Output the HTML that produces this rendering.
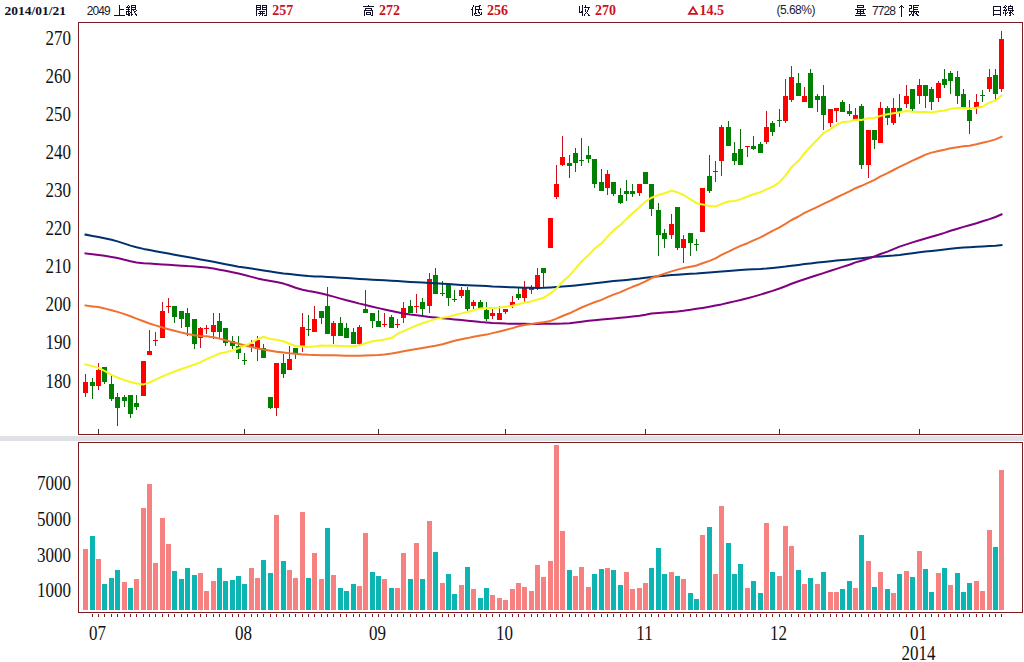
<!DOCTYPE html>
<html><head><meta charset="utf-8">
<style>
html,body{margin:0;padding:0;background:#fff;}
body{width:1024px;height:662px;overflow:hidden;position:relative;}
svg{position:absolute;left:0;top:0;}
.yl{font-family:"Liberation Serif",serif;font-size:17px;fill:#111;text-anchor:end;}
.xl{font-family:"Liberation Serif",serif;font-size:17px;fill:#111;text-anchor:middle;}
.h{position:absolute;top:3px;font-family:"Liberation Sans",sans-serif;font-size:12px;color:#1a1a2e;white-space:nowrap;line-height:14px;}
.hb{font-family:"Liberation Serif",serif;font-weight:bold;color:#cc1122;font-size:14px;}
.hd{font-family:"Liberation Serif",serif;font-weight:bold;color:#10102a;font-size:13.5px;}
.hn{font-size:12px;letter-spacing:-0.9px;}
.hp{font-size:12px;letter-spacing:-0.5px;}
.hc{font-size:12px;color:#10102a;}
</style></head><body>
<svg width="1024" height="662" viewBox="0 0 1024 662">
<rect x="0" y="436" width="1024" height="5" fill="#e0e1e4"/>
<rect x="78.5" y="22.5" width="944" height="412" fill="#fff" stroke="#7a1c22" stroke-width="1"/>
<rect x="78.5" y="442.5" width="944" height="170" fill="#fff" stroke="#7a1c22" stroke-width="1"/>
<rect x="85" y="374" width="1" height="23" fill="#c8101e"/>
<rect x="83" y="382" width="5" height="11" fill="#ff0000"/>
<rect x="92" y="378" width="1" height="21" fill="#0a6e0a"/>
<rect x="90" y="382" width="5" height="4" fill="#008000"/>
<rect x="98" y="363" width="1" height="27" fill="#c8101e"/>
<rect x="96" y="370" width="5" height="16" fill="#ff0000"/>
<rect x="104" y="367" width="1" height="17" fill="#0a6e0a"/>
<rect x="102" y="367" width="5" height="15" fill="#008000"/>
<rect x="111" y="374" width="1" height="27" fill="#0a6e0a"/>
<rect x="109" y="384" width="5" height="15" fill="#008000"/>
<rect x="117" y="393" width="1" height="33" fill="#0a6e0a"/>
<rect x="115" y="397" width="5" height="11" fill="#008000"/>
<rect x="124" y="395" width="1" height="12" fill="#0a6e0a"/>
<rect x="122" y="397" width="5" height="4" fill="#008000"/>
<rect x="130" y="395" width="1" height="23" fill="#0a6e0a"/>
<rect x="128" y="395" width="5" height="19" fill="#008000"/>
<rect x="136" y="395" width="1" height="15" fill="#0a6e0a"/>
<rect x="134" y="403" width="5" height="4" fill="#008000"/>
<rect x="143" y="361" width="1" height="35" fill="#c8101e"/>
<rect x="141" y="361" width="5" height="35" fill="#ff0000"/>
<rect x="149" y="330" width="1" height="25" fill="#c8101e"/>
<rect x="147" y="351" width="5" height="4" fill="#ff0000"/>
<rect x="155" y="332" width="1" height="14" fill="#c8101e"/>
<rect x="153" y="340" width="5" height="1" fill="#ff0000"/>
<rect x="162" y="302" width="1" height="36" fill="#c8101e"/>
<rect x="160" y="311" width="5" height="27" fill="#ff0000"/>
<rect x="168" y="298" width="1" height="15" fill="#c8101e"/>
<rect x="166" y="306" width="5" height="1" fill="#ff0000"/>
<rect x="174" y="306" width="1" height="17" fill="#0a6e0a"/>
<rect x="172" y="306" width="5" height="11" fill="#008000"/>
<rect x="181" y="311" width="1" height="17" fill="#0a6e0a"/>
<rect x="179" y="311" width="5" height="8" fill="#008000"/>
<rect x="187" y="308" width="1" height="28" fill="#0a6e0a"/>
<rect x="185" y="313" width="5" height="14" fill="#008000"/>
<rect x="194" y="319" width="1" height="30" fill="#0a6e0a"/>
<rect x="192" y="319" width="5" height="25" fill="#008000"/>
<rect x="200" y="327" width="1" height="21" fill="#c8101e"/>
<rect x="198" y="328" width="5" height="10" fill="#ff0000"/>
<rect x="206" y="325" width="1" height="9" fill="#c8101e"/>
<rect x="204" y="328" width="5" height="1" fill="#ff0000"/>
<rect x="213" y="313" width="1" height="26" fill="#c8101e"/>
<rect x="211" y="325" width="5" height="7" fill="#ff0000"/>
<rect x="219" y="313" width="1" height="25" fill="#0a6e0a"/>
<rect x="217" y="321" width="5" height="11" fill="#008000"/>
<rect x="225" y="328" width="1" height="18" fill="#0a6e0a"/>
<rect x="223" y="328" width="5" height="15" fill="#008000"/>
<rect x="232" y="336" width="1" height="13" fill="#0a6e0a"/>
<rect x="230" y="341" width="5" height="5" fill="#008000"/>
<rect x="238" y="336" width="1" height="23" fill="#0a6e0a"/>
<rect x="236" y="346" width="5" height="7" fill="#008000"/>
<rect x="244" y="353" width="1" height="12" fill="#0a6e0a"/>
<rect x="242" y="360" width="5" height="1" fill="#008000"/>
<rect x="251" y="340" width="1" height="12" fill="#c8101e"/>
<rect x="249" y="344" width="5" height="3" fill="#ff0000"/>
<rect x="257" y="336" width="1" height="25" fill="#c8101e"/>
<rect x="255" y="340" width="5" height="9" fill="#ff0000"/>
<rect x="263" y="344" width="1" height="14" fill="#0a6e0a"/>
<rect x="261" y="348" width="5" height="10" fill="#008000"/>
<rect x="270" y="397" width="1" height="12" fill="#0a6e0a"/>
<rect x="268" y="397" width="5" height="11" fill="#008000"/>
<rect x="276" y="363" width="1" height="53" fill="#c8101e"/>
<rect x="274" y="363" width="5" height="45" fill="#ff0000"/>
<rect x="283" y="354" width="1" height="24" fill="#0a6e0a"/>
<rect x="281" y="363" width="5" height="11" fill="#008000"/>
<rect x="289" y="346" width="1" height="24" fill="#c8101e"/>
<rect x="287" y="359" width="5" height="11" fill="#ff0000"/>
<rect x="295" y="348" width="1" height="11" fill="#0a6e0a"/>
<rect x="293" y="348" width="5" height="5" fill="#008000"/>
<rect x="302" y="313" width="1" height="39" fill="#c8101e"/>
<rect x="300" y="327" width="5" height="19" fill="#ff0000"/>
<rect x="308" y="315" width="1" height="21" fill="#0a6e0a"/>
<rect x="306" y="329" width="5" height="1" fill="#008000"/>
<rect x="314" y="306" width="1" height="26" fill="#c8101e"/>
<rect x="312" y="319" width="5" height="13" fill="#ff0000"/>
<rect x="321" y="311" width="1" height="13" fill="#0a6e0a"/>
<rect x="319" y="311" width="5" height="7" fill="#008000"/>
<rect x="327" y="287" width="1" height="47" fill="#0a6e0a"/>
<rect x="325" y="306" width="5" height="28" fill="#008000"/>
<rect x="333" y="321" width="1" height="23" fill="#c8101e"/>
<rect x="331" y="323" width="5" height="13" fill="#ff0000"/>
<rect x="340" y="317" width="1" height="19" fill="#0a6e0a"/>
<rect x="338" y="323" width="5" height="13" fill="#008000"/>
<rect x="346" y="323" width="1" height="15" fill="#0a6e0a"/>
<rect x="344" y="328" width="5" height="10" fill="#008000"/>
<rect x="353" y="328" width="1" height="16" fill="#0a6e0a"/>
<rect x="351" y="332" width="5" height="12" fill="#008000"/>
<rect x="359" y="325" width="1" height="20" fill="#c8101e"/>
<rect x="357" y="327" width="5" height="17" fill="#ff0000"/>
<rect x="365" y="290" width="1" height="23" fill="#0a6e0a"/>
<rect x="363" y="309" width="5" height="4" fill="#008000"/>
<rect x="372" y="313" width="1" height="15" fill="#0a6e0a"/>
<rect x="370" y="313" width="5" height="8" fill="#008000"/>
<rect x="378" y="310" width="1" height="17" fill="#0a6e0a"/>
<rect x="376" y="321" width="5" height="6" fill="#008000"/>
<rect x="384" y="313" width="1" height="14" fill="#c8101e"/>
<rect x="382" y="324" width="5" height="1" fill="#ff0000"/>
<rect x="391" y="315" width="1" height="13" fill="#0a6e0a"/>
<rect x="389" y="317" width="5" height="11" fill="#008000"/>
<rect x="397" y="319" width="1" height="9" fill="#c8101e"/>
<rect x="395" y="324" width="5" height="1" fill="#ff0000"/>
<rect x="403" y="302" width="1" height="21" fill="#c8101e"/>
<rect x="401" y="308" width="5" height="10" fill="#ff0000"/>
<rect x="410" y="300" width="1" height="13" fill="#0a6e0a"/>
<rect x="408" y="306" width="5" height="7" fill="#008000"/>
<rect x="416" y="294" width="1" height="19" fill="#c8101e"/>
<rect x="414" y="306" width="5" height="1" fill="#ff0000"/>
<rect x="422" y="298" width="1" height="18" fill="#0a6e0a"/>
<rect x="420" y="302" width="5" height="7" fill="#008000"/>
<rect x="429" y="273" width="1" height="40" fill="#c8101e"/>
<rect x="427" y="279" width="5" height="27" fill="#ff0000"/>
<rect x="435" y="268" width="1" height="26" fill="#0a6e0a"/>
<rect x="433" y="275" width="5" height="19" fill="#008000"/>
<rect x="442" y="281" width="1" height="15" fill="#0a6e0a"/>
<rect x="440" y="293" width="5" height="1" fill="#008000"/>
<rect x="448" y="284" width="1" height="22" fill="#0a6e0a"/>
<rect x="446" y="284" width="5" height="14" fill="#008000"/>
<rect x="454" y="290" width="1" height="12" fill="#0a6e0a"/>
<rect x="452" y="299" width="5" height="1" fill="#008000"/>
<rect x="461" y="287" width="1" height="11" fill="#c8101e"/>
<rect x="459" y="290" width="5" height="6" fill="#ff0000"/>
<rect x="467" y="287" width="1" height="24" fill="#0a6e0a"/>
<rect x="465" y="290" width="5" height="19" fill="#008000"/>
<rect x="473" y="300" width="1" height="9" fill="#c8101e"/>
<rect x="471" y="302" width="5" height="4" fill="#ff0000"/>
<rect x="480" y="300" width="1" height="8" fill="#0a6e0a"/>
<rect x="478" y="302" width="5" height="6" fill="#008000"/>
<rect x="486" y="302" width="1" height="19" fill="#0a6e0a"/>
<rect x="484" y="310" width="5" height="9" fill="#008000"/>
<rect x="492" y="309" width="1" height="10" fill="#c8101e"/>
<rect x="490" y="313" width="5" height="3" fill="#ff0000"/>
<rect x="499" y="306" width="1" height="14" fill="#c8101e"/>
<rect x="497" y="313" width="5" height="7" fill="#ff0000"/>
<rect x="505" y="309" width="1" height="5" fill="#c8101e"/>
<rect x="503" y="309" width="5" height="3" fill="#ff0000"/>
<rect x="512" y="296" width="1" height="12" fill="#c8101e"/>
<rect x="510" y="302" width="5" height="3" fill="#ff0000"/>
<rect x="518" y="288" width="1" height="12" fill="#0a6e0a"/>
<rect x="516" y="294" width="5" height="4" fill="#008000"/>
<rect x="524" y="281" width="1" height="21" fill="#c8101e"/>
<rect x="522" y="288" width="5" height="10" fill="#ff0000"/>
<rect x="531" y="285" width="1" height="9" fill="#c8101e"/>
<rect x="529" y="288" width="5" height="2" fill="#ff0000"/>
<rect x="537" y="268" width="1" height="22" fill="#c8101e"/>
<rect x="535" y="275" width="5" height="13" fill="#ff0000"/>
<rect x="543" y="268" width="1" height="20" fill="#0a6e0a"/>
<rect x="541" y="268" width="5" height="5" fill="#008000"/>
<rect x="550" y="218" width="1" height="30" fill="#c8101e"/>
<rect x="548" y="218" width="5" height="30" fill="#ff0000"/>
<rect x="556" y="165" width="1" height="34" fill="#c8101e"/>
<rect x="554" y="184" width="5" height="13" fill="#ff0000"/>
<rect x="562" y="136" width="1" height="30" fill="#c8101e"/>
<rect x="560" y="157" width="5" height="8" fill="#ff0000"/>
<rect x="569" y="155" width="1" height="23" fill="#0a6e0a"/>
<rect x="567" y="163" width="5" height="3" fill="#008000"/>
<rect x="575" y="148" width="1" height="24" fill="#0a6e0a"/>
<rect x="573" y="153" width="5" height="10" fill="#008000"/>
<rect x="581" y="138" width="1" height="28" fill="#0a6e0a"/>
<rect x="579" y="160" width="5" height="1" fill="#008000"/>
<rect x="588" y="146" width="1" height="17" fill="#0a6e0a"/>
<rect x="586" y="155" width="5" height="4" fill="#008000"/>
<rect x="594" y="159" width="1" height="29" fill="#0a6e0a"/>
<rect x="592" y="159" width="5" height="25" fill="#008000"/>
<rect x="601" y="169" width="1" height="22" fill="#0a6e0a"/>
<rect x="599" y="182" width="5" height="9" fill="#008000"/>
<rect x="607" y="170" width="1" height="25" fill="#c8101e"/>
<rect x="605" y="174" width="5" height="14" fill="#ff0000"/>
<rect x="613" y="182" width="1" height="14" fill="#0a6e0a"/>
<rect x="611" y="182" width="5" height="12" fill="#008000"/>
<rect x="620" y="188" width="1" height="16" fill="#0a6e0a"/>
<rect x="618" y="195" width="5" height="8" fill="#008000"/>
<rect x="626" y="180" width="1" height="21" fill="#0a6e0a"/>
<rect x="624" y="191" width="5" height="3" fill="#008000"/>
<rect x="632" y="184" width="1" height="13" fill="#0a6e0a"/>
<rect x="630" y="191" width="5" height="3" fill="#008000"/>
<rect x="639" y="184" width="1" height="12" fill="#c8101e"/>
<rect x="637" y="184" width="5" height="9" fill="#ff0000"/>
<rect x="645" y="172" width="1" height="12" fill="#0a6e0a"/>
<rect x="643" y="172" width="5" height="12" fill="#008000"/>
<rect x="651" y="184" width="1" height="32" fill="#0a6e0a"/>
<rect x="649" y="184" width="5" height="25" fill="#008000"/>
<rect x="658" y="203" width="1" height="53" fill="#0a6e0a"/>
<rect x="656" y="210" width="5" height="25" fill="#008000"/>
<rect x="664" y="229" width="1" height="19" fill="#0a6e0a"/>
<rect x="662" y="233" width="5" height="6" fill="#008000"/>
<rect x="671" y="214" width="1" height="25" fill="#c8101e"/>
<rect x="669" y="224" width="5" height="11" fill="#ff0000"/>
<rect x="677" y="207" width="1" height="43" fill="#0a6e0a"/>
<rect x="675" y="207" width="5" height="41" fill="#008000"/>
<rect x="683" y="235" width="1" height="28" fill="#c8101e"/>
<rect x="681" y="239" width="5" height="9" fill="#ff0000"/>
<rect x="690" y="233" width="1" height="23" fill="#0a6e0a"/>
<rect x="688" y="233" width="5" height="10" fill="#008000"/>
<rect x="696" y="239" width="1" height="12" fill="#0a6e0a"/>
<rect x="694" y="244" width="5" height="1" fill="#008000"/>
<rect x="702" y="188" width="1" height="44" fill="#c8101e"/>
<rect x="700" y="188" width="5" height="44" fill="#ff0000"/>
<rect x="709" y="155" width="1" height="38" fill="#0a6e0a"/>
<rect x="707" y="176" width="5" height="15" fill="#008000"/>
<rect x="715" y="161" width="1" height="21" fill="#c8101e"/>
<rect x="713" y="171" width="5" height="1" fill="#ff0000"/>
<rect x="721" y="125" width="1" height="51" fill="#c8101e"/>
<rect x="719" y="127" width="5" height="34" fill="#ff0000"/>
<rect x="728" y="121" width="1" height="25" fill="#0a6e0a"/>
<rect x="726" y="127" width="5" height="19" fill="#008000"/>
<rect x="734" y="142" width="1" height="23" fill="#0a6e0a"/>
<rect x="732" y="153" width="5" height="8" fill="#008000"/>
<rect x="740" y="129" width="1" height="36" fill="#0a6e0a"/>
<rect x="738" y="149" width="5" height="16" fill="#008000"/>
<rect x="747" y="146" width="1" height="11" fill="#c8101e"/>
<rect x="745" y="146" width="5" height="1" fill="#ff0000"/>
<rect x="753" y="136" width="1" height="14" fill="#0a6e0a"/>
<rect x="751" y="146" width="5" height="3" fill="#008000"/>
<rect x="760" y="142" width="1" height="11" fill="#0a6e0a"/>
<rect x="758" y="144" width="5" height="9" fill="#008000"/>
<rect x="766" y="111" width="1" height="33" fill="#c8101e"/>
<rect x="764" y="127" width="5" height="15" fill="#ff0000"/>
<rect x="772" y="121" width="1" height="15" fill="#0a6e0a"/>
<rect x="770" y="123" width="5" height="9" fill="#008000"/>
<rect x="779" y="109" width="1" height="18" fill="#0a6e0a"/>
<rect x="777" y="120" width="5" height="1" fill="#008000"/>
<rect x="785" y="79" width="1" height="44" fill="#c8101e"/>
<rect x="783" y="96" width="5" height="25" fill="#ff0000"/>
<rect x="791" y="66" width="1" height="36" fill="#c8101e"/>
<rect x="789" y="77" width="5" height="23" fill="#ff0000"/>
<rect x="798" y="73" width="1" height="23" fill="#0a6e0a"/>
<rect x="796" y="83" width="5" height="13" fill="#008000"/>
<rect x="804" y="87" width="1" height="15" fill="#c8101e"/>
<rect x="802" y="96" width="5" height="6" fill="#ff0000"/>
<rect x="810" y="69" width="1" height="39" fill="#0a6e0a"/>
<rect x="808" y="73" width="5" height="35" fill="#008000"/>
<rect x="817" y="94" width="1" height="18" fill="#0a6e0a"/>
<rect x="815" y="96" width="5" height="4" fill="#008000"/>
<rect x="823" y="85" width="1" height="45" fill="#0a6e0a"/>
<rect x="821" y="96" width="5" height="19" fill="#008000"/>
<rect x="830" y="109" width="1" height="18" fill="#c8101e"/>
<rect x="828" y="109" width="5" height="14" fill="#ff0000"/>
<rect x="836" y="108" width="1" height="14" fill="#c8101e"/>
<rect x="834" y="108" width="5" height="3" fill="#ff0000"/>
<rect x="842" y="100" width="1" height="12" fill="#0a6e0a"/>
<rect x="840" y="102" width="5" height="10" fill="#008000"/>
<rect x="849" y="104" width="1" height="12" fill="#0a6e0a"/>
<rect x="847" y="111" width="5" height="3" fill="#008000"/>
<rect x="855" y="108" width="1" height="12" fill="#c8101e"/>
<rect x="853" y="115" width="5" height="5" fill="#ff0000"/>
<rect x="861" y="104" width="1" height="65" fill="#0a6e0a"/>
<rect x="859" y="106" width="5" height="59" fill="#008000"/>
<rect x="868" y="130" width="1" height="48" fill="#c8101e"/>
<rect x="866" y="130" width="5" height="35" fill="#ff0000"/>
<rect x="874" y="130" width="1" height="19" fill="#0a6e0a"/>
<rect x="872" y="130" width="5" height="10" fill="#008000"/>
<rect x="880" y="102" width="1" height="41" fill="#c8101e"/>
<rect x="878" y="108" width="5" height="35" fill="#ff0000"/>
<rect x="887" y="106" width="1" height="19" fill="#0a6e0a"/>
<rect x="885" y="108" width="5" height="10" fill="#008000"/>
<rect x="893" y="98" width="1" height="27" fill="#c8101e"/>
<rect x="891" y="108" width="5" height="15" fill="#ff0000"/>
<rect x="899" y="94" width="1" height="23" fill="#0a6e0a"/>
<rect x="897" y="108" width="5" height="4" fill="#008000"/>
<rect x="906" y="85" width="1" height="23" fill="#c8101e"/>
<rect x="904" y="96" width="5" height="8" fill="#ff0000"/>
<rect x="912" y="89" width="1" height="22" fill="#0a6e0a"/>
<rect x="910" y="89" width="5" height="20" fill="#008000"/>
<rect x="919" y="79" width="1" height="25" fill="#c8101e"/>
<rect x="917" y="85" width="5" height="11" fill="#ff0000"/>
<rect x="925" y="85" width="1" height="23" fill="#0a6e0a"/>
<rect x="923" y="85" width="5" height="11" fill="#008000"/>
<rect x="931" y="87" width="1" height="23" fill="#0a6e0a"/>
<rect x="929" y="89" width="5" height="13" fill="#008000"/>
<rect x="938" y="81" width="1" height="21" fill="#c8101e"/>
<rect x="936" y="83" width="5" height="15" fill="#ff0000"/>
<rect x="944" y="69" width="1" height="19" fill="#0a6e0a"/>
<rect x="942" y="79" width="5" height="6" fill="#008000"/>
<rect x="950" y="71" width="1" height="23" fill="#0a6e0a"/>
<rect x="948" y="73" width="5" height="8" fill="#008000"/>
<rect x="957" y="71" width="1" height="33" fill="#0a6e0a"/>
<rect x="955" y="77" width="5" height="19" fill="#008000"/>
<rect x="963" y="89" width="1" height="18" fill="#0a6e0a"/>
<rect x="961" y="94" width="5" height="13" fill="#008000"/>
<rect x="969" y="100" width="1" height="34" fill="#0a6e0a"/>
<rect x="967" y="110" width="5" height="11" fill="#008000"/>
<rect x="976" y="94" width="1" height="20" fill="#c8101e"/>
<rect x="974" y="102" width="5" height="5" fill="#ff0000"/>
<rect x="982" y="90" width="1" height="12" fill="#0a6e0a"/>
<rect x="980" y="95" width="5" height="1" fill="#008000"/>
<rect x="989" y="69" width="1" height="23" fill="#c8101e"/>
<rect x="987" y="77" width="5" height="12" fill="#ff0000"/>
<rect x="995" y="69" width="1" height="31" fill="#0a6e0a"/>
<rect x="993" y="75" width="5" height="19" fill="#008000"/>
<rect x="1001" y="31" width="1" height="61" fill="#c8101e"/>
<rect x="999" y="39" width="5" height="50" fill="#ff0000"/>
<polyline points="85.5,234.6 92.5,236.0 98.5,237.1 104.5,238.3 111.5,239.8 117.5,241.4 124.5,243.6 130.5,245.6 136.5,247.3 143.5,248.9 149.5,250.0 155.5,251.2 162.5,252.5 168.5,253.6 174.5,254.7 181.5,256.0 187.5,257.1 194.5,258.3 200.5,259.4 206.5,260.4 213.5,261.7 219.5,262.9 225.5,264.2 232.5,265.6 238.5,266.7 244.5,267.6 251.5,268.6 257.5,269.5 263.5,270.4 270.5,271.5 276.5,272.4 283.5,273.4 289.5,274.1 295.5,274.8 302.5,275.5 308.5,276.1 314.5,276.4 321.5,276.6 327.5,276.9 333.5,277.3 340.5,277.7 346.5,278.1 353.5,278.5 359.5,278.9 365.5,279.3 372.5,279.7 378.5,280.0 384.5,280.3 391.5,280.7 397.5,281.0 403.5,281.4 410.5,281.9 416.5,282.3 422.5,282.6 429.5,282.9 435.5,283.2 442.5,283.7 448.5,284.1 454.5,284.5 461.5,284.9 467.5,285.2 473.5,285.5 480.5,285.8 486.5,286.1 492.5,286.5 499.5,286.8 505.5,287.1 512.5,287.3 518.5,287.5 524.5,287.7 531.5,287.8 537.5,287.9 543.5,287.8 550.5,287.4 556.5,287.0 562.5,286.6 569.5,286.0 575.5,285.4 581.5,284.8 588.5,284.0 594.5,283.3 601.5,282.5 607.5,281.8 613.5,281.1 620.5,280.4 626.5,279.9 632.5,279.3 639.5,278.6 645.5,277.8 651.5,276.9 658.5,276.2 664.5,275.7 671.5,275.1 677.5,274.7 683.5,274.2 690.5,273.8 696.5,273.5 702.5,273.0 709.5,272.5 715.5,272.1 721.5,271.6 728.5,271.0 734.5,270.5 740.5,269.9 747.5,269.4 753.5,269.2 760.5,268.9 766.5,268.5 772.5,267.9 779.5,267.2 785.5,266.6 791.5,265.8 798.5,264.9 804.5,264.1 810.5,263.4 817.5,262.6 823.5,261.9 830.5,261.2 836.5,260.6 842.5,260.1 849.5,259.4 855.5,258.8 861.5,258.2 868.5,257.4 874.5,256.8 880.5,256.4 887.5,255.9 893.5,255.5 899.5,254.9 906.5,254.0 912.5,253.2 919.5,252.3 925.5,251.6 931.5,250.9 938.5,250.2 944.5,249.5 950.5,248.8 957.5,248.1 963.5,247.6 969.5,247.2 976.5,246.8 982.5,246.5 989.5,246.1 995.5,245.7 1001.5,245.0" fill="none" stroke="#00306e" stroke-width="2" stroke-linejoin="round" stroke-linecap="square"/>
<polyline points="85.5,253.4 92.5,254.3 98.5,255.1 104.5,255.8 111.5,256.9 117.5,258.0 124.5,259.8 130.5,261.2 136.5,262.4 143.5,263.2 149.5,263.6 155.5,263.9 162.5,264.4 168.5,264.8 174.5,265.2 181.5,265.7 187.5,266.1 194.5,266.4 200.5,266.9 206.5,267.6 213.5,268.6 219.5,269.7 225.5,270.8 232.5,272.2 238.5,273.5 244.5,275.0 251.5,276.9 257.5,278.4 263.5,279.7 270.5,281.0 276.5,282.1 283.5,283.6 289.5,285.5 295.5,287.7 302.5,289.7 308.5,291.0 314.5,292.1 321.5,293.5 327.5,295.0 333.5,296.6 340.5,298.6 346.5,300.2 353.5,302.0 359.5,303.6 365.5,305.0 372.5,306.7 378.5,308.1 384.5,309.5 391.5,311.0 397.5,312.2 403.5,313.4 410.5,314.5 416.5,315.3 422.5,316.1 429.5,316.9 435.5,317.5 442.5,318.3 448.5,318.8 454.5,319.4 461.5,320.1 467.5,320.7 473.5,321.3 480.5,322.0 486.5,322.4 492.5,322.9 499.5,323.3 505.5,323.6 512.5,323.7 518.5,323.8 524.5,323.8 531.5,323.9 537.5,323.9 543.5,323.8 550.5,323.8 556.5,323.8 562.5,323.6 569.5,323.2 575.5,322.5 581.5,321.7 588.5,320.8 594.5,320.2 601.5,319.5 607.5,319.0 613.5,318.5 620.5,317.8 626.5,317.2 632.5,316.6 639.5,315.8 645.5,314.8 651.5,313.6 658.5,312.9 664.5,312.5 671.5,312.0 677.5,311.5 683.5,310.8 690.5,309.8 696.5,308.8 702.5,307.9 709.5,306.7 715.5,305.6 721.5,304.4 728.5,302.8 734.5,301.4 740.5,300.0 747.5,298.2 753.5,296.6 760.5,294.6 766.5,292.8 772.5,290.9 779.5,288.5 785.5,286.2 791.5,283.8 798.5,281.2 804.5,279.2 810.5,277.2 817.5,275.0 823.5,273.1 830.5,270.8 836.5,268.9 842.5,266.9 849.5,264.7 855.5,262.4 861.5,260.7 868.5,258.6 874.5,256.5 880.5,254.0 887.5,251.6 893.5,249.1 899.5,246.6 906.5,244.4 912.5,242.4 919.5,240.2 925.5,238.5 931.5,236.7 938.5,234.8 944.5,232.9 950.5,230.8 957.5,228.7 963.5,226.9 969.5,225.2 976.5,223.3 982.5,221.3 989.5,219.1 995.5,217.0 1001.5,214.4" fill="none" stroke="#800080" stroke-width="2" stroke-linejoin="round" stroke-linecap="square"/>
<polyline points="85.5,305.5 92.5,306.4 98.5,307.1 104.5,308.4 111.5,310.2 117.5,311.9 124.5,314.1 130.5,316.3 136.5,318.6 143.5,321.3 149.5,323.5 155.5,325.4 162.5,327.5 168.5,329.2 174.5,330.8 181.5,332.6 187.5,333.9 194.5,335.2 200.5,335.9 206.5,336.3 213.5,337.2 219.5,338.6 225.5,340.2 232.5,342.1 238.5,343.7 244.5,345.2 251.5,347.0 257.5,348.4 263.5,349.6 270.5,350.8 276.5,351.7 283.5,352.6 289.5,353.3 295.5,353.8 302.5,354.4 308.5,354.8 314.5,355.0 321.5,355.2 327.5,355.2 333.5,355.3 340.5,355.5 346.5,355.7 353.5,355.8 359.5,355.7 365.5,355.5 372.5,355.2 378.5,354.9 384.5,354.4 391.5,353.5 397.5,352.4 403.5,351.2 410.5,350.0 416.5,349.0 422.5,347.9 429.5,346.7 435.5,345.7 442.5,344.2 448.5,342.5 454.5,340.8 461.5,339.3 467.5,338.1 473.5,336.7 480.5,335.6 486.5,334.6 492.5,333.1 499.5,331.5 505.5,330.0 512.5,328.1 518.5,326.3 524.5,325.1 531.5,324.1 537.5,323.0 543.5,322.3 550.5,320.9 556.5,318.6 562.5,316.0 569.5,313.3 575.5,310.3 581.5,307.5 588.5,304.6 594.5,302.3 601.5,299.9 607.5,297.1 613.5,294.6 620.5,292.1 626.5,289.3 632.5,286.8 639.5,284.2 645.5,281.3 651.5,278.0 658.5,275.8 664.5,273.6 671.5,271.4 677.5,269.6 683.5,268.1 690.5,266.7 696.5,265.5 702.5,263.3 709.5,260.9 715.5,258.4 721.5,254.9 728.5,251.7 734.5,248.6 740.5,245.9 747.5,243.2 753.5,240.3 760.5,237.4 766.5,234.1 772.5,230.8 779.5,227.4 785.5,223.9 791.5,220.0 798.5,216.5 804.5,212.9 810.5,210.1 817.5,206.8 823.5,203.9 830.5,200.7 836.5,197.5 842.5,194.6 849.5,191.3 855.5,188.2 861.5,185.8 868.5,182.7 874.5,179.8 880.5,176.4 887.5,173.2 893.5,170.0 899.5,166.9 906.5,163.7 912.5,160.7 919.5,157.5 925.5,154.6 931.5,152.6 938.5,151.0 944.5,149.8 950.5,148.3 957.5,147.2 963.5,146.3 969.5,145.7 976.5,144.3 982.5,142.7 989.5,141.1 995.5,139.4 1001.5,136.7" fill="none" stroke="#f07030" stroke-width="2" stroke-linejoin="round" stroke-linecap="square"/>
<polyline points="85.5,364.5 92.5,366.1 98.5,367.9 104.5,370.9 111.5,374.9 117.5,377.5 124.5,380.1 130.5,382.0 136.5,383.5 143.5,384.4 149.5,382.5 155.5,379.6 162.5,376.4 168.5,373.9 174.5,371.5 181.5,369.0 187.5,366.9 194.5,364.5 200.5,362.2 206.5,359.1 213.5,356.2 219.5,353.5 225.5,352.2 232.5,350.4 238.5,348.1 244.5,345.7 251.5,342.8 257.5,339.1 263.5,336.7 270.5,339.1 276.5,339.7 283.5,341.3 289.5,343.7 295.5,346.0 302.5,346.6 308.5,347.1 314.5,346.6 321.5,345.4 327.5,345.7 333.5,345.4 340.5,345.9 346.5,346.2 353.5,346.2 359.5,345.3 365.5,343.3 372.5,341.3 378.5,340.4 384.5,339.6 391.5,338.1 397.5,333.9 403.5,331.1 410.5,328.1 416.5,325.5 422.5,323.3 429.5,320.9 435.5,319.1 442.5,317.8 448.5,316.8 454.5,315.0 461.5,313.4 467.5,312.0 473.5,310.2 480.5,308.4 486.5,308.0 492.5,308.0 499.5,307.6 505.5,306.7 512.5,305.7 518.5,304.2 524.5,302.4 531.5,301.4 537.5,299.5 543.5,297.8 550.5,293.3 556.5,288.5 562.5,281.7 569.5,275.4 575.5,268.6 581.5,261.7 588.5,255.1 594.5,248.8 601.5,243.3 607.5,236.6 613.5,230.4 620.5,224.9 626.5,219.0 632.5,213.3 639.5,207.3 645.5,201.6 651.5,197.7 658.5,195.0 664.5,193.2 671.5,190.8 677.5,192.3 683.5,195.0 690.5,199.3 696.5,203.2 702.5,204.4 709.5,206.0 715.5,206.6 721.5,203.8 728.5,201.5 734.5,200.9 740.5,199.4 747.5,196.5 753.5,194.3 760.5,192.2 766.5,189.3 772.5,186.7 779.5,182.3 785.5,175.3 791.5,167.2 798.5,160.8 804.5,153.2 810.5,146.7 817.5,139.5 823.5,133.0 830.5,129.1 836.5,124.9 842.5,122.0 849.5,121.4 855.5,119.8 861.5,120.0 868.5,118.3 874.5,118.0 880.5,115.9 887.5,114.2 893.5,113.3 899.5,112.3 906.5,111.1 912.5,111.7 919.5,112.1 925.5,112.1 931.5,112.4 938.5,111.2 944.5,110.5 950.5,108.8 957.5,108.1 963.5,108.0 969.5,108.5 976.5,107.8 982.5,106.8 989.5,102.4 995.5,100.6 1001.5,95.6" fill="none" stroke="#f5f520" stroke-width="2" stroke-linejoin="round" stroke-linecap="square"/>
<rect x="83" y="549" width="5" height="61" fill="#f78181"/>
<rect x="90" y="536" width="5" height="74" fill="#0cb4b2"/>
<rect x="96" y="559" width="5" height="51" fill="#f78181"/>
<rect x="102" y="584" width="5" height="26" fill="#0cb4b2"/>
<rect x="109" y="578" width="5" height="32" fill="#0cb4b2"/>
<rect x="115" y="570" width="5" height="40" fill="#0cb4b2"/>
<rect x="122" y="582" width="5" height="28" fill="#f78181"/>
<rect x="128" y="588" width="5" height="22" fill="#0cb4b2"/>
<rect x="134" y="579" width="5" height="31" fill="#f78181"/>
<rect x="141" y="508" width="5" height="102" fill="#f78181"/>
<rect x="147" y="484" width="5" height="126" fill="#f78181"/>
<rect x="153" y="563" width="5" height="47" fill="#f78181"/>
<rect x="160" y="518" width="5" height="92" fill="#f78181"/>
<rect x="166" y="544" width="5" height="66" fill="#f78181"/>
<rect x="172" y="571" width="5" height="39" fill="#0cb4b2"/>
<rect x="179" y="579" width="5" height="31" fill="#0cb4b2"/>
<rect x="185" y="568" width="5" height="42" fill="#0cb4b2"/>
<rect x="192" y="575" width="5" height="35" fill="#0cb4b2"/>
<rect x="198" y="573" width="5" height="37" fill="#f78181"/>
<rect x="204" y="591" width="5" height="19" fill="#f78181"/>
<rect x="211" y="581" width="5" height="29" fill="#f78181"/>
<rect x="217" y="568" width="5" height="42" fill="#0cb4b2"/>
<rect x="223" y="581" width="5" height="29" fill="#0cb4b2"/>
<rect x="230" y="580" width="5" height="30" fill="#0cb4b2"/>
<rect x="236" y="576" width="5" height="34" fill="#0cb4b2"/>
<rect x="242" y="584" width="5" height="26" fill="#0cb4b2"/>
<rect x="249" y="568" width="5" height="42" fill="#f78181"/>
<rect x="255" y="578" width="5" height="32" fill="#f78181"/>
<rect x="261" y="560" width="5" height="50" fill="#0cb4b2"/>
<rect x="268" y="573" width="5" height="37" fill="#0cb4b2"/>
<rect x="274" y="515" width="5" height="95" fill="#f78181"/>
<rect x="281" y="561" width="5" height="49" fill="#0cb4b2"/>
<rect x="287" y="570" width="5" height="40" fill="#f78181"/>
<rect x="293" y="578" width="5" height="32" fill="#f78181"/>
<rect x="300" y="512" width="5" height="98" fill="#f78181"/>
<rect x="306" y="578" width="5" height="32" fill="#0cb4b2"/>
<rect x="312" y="553" width="5" height="57" fill="#f78181"/>
<rect x="319" y="579" width="5" height="31" fill="#f78181"/>
<rect x="325" y="528" width="5" height="82" fill="#0cb4b2"/>
<rect x="331" y="575" width="5" height="35" fill="#f78181"/>
<rect x="338" y="588" width="5" height="22" fill="#0cb4b2"/>
<rect x="344" y="591" width="5" height="19" fill="#0cb4b2"/>
<rect x="351" y="584" width="5" height="26" fill="#0cb4b2"/>
<rect x="357" y="586" width="5" height="24" fill="#f78181"/>
<rect x="363" y="533" width="5" height="77" fill="#f78181"/>
<rect x="370" y="572" width="5" height="38" fill="#0cb4b2"/>
<rect x="376" y="576" width="5" height="34" fill="#0cb4b2"/>
<rect x="382" y="579" width="5" height="31" fill="#f78181"/>
<rect x="389" y="588" width="5" height="22" fill="#0cb4b2"/>
<rect x="395" y="588" width="5" height="22" fill="#f78181"/>
<rect x="401" y="553" width="5" height="57" fill="#f78181"/>
<rect x="408" y="579" width="5" height="31" fill="#0cb4b2"/>
<rect x="414" y="543" width="5" height="67" fill="#f78181"/>
<rect x="420" y="579" width="5" height="31" fill="#0cb4b2"/>
<rect x="427" y="521" width="5" height="89" fill="#f78181"/>
<rect x="433" y="552" width="5" height="58" fill="#0cb4b2"/>
<rect x="440" y="583" width="5" height="27" fill="#f78181"/>
<rect x="446" y="574" width="5" height="36" fill="#0cb4b2"/>
<rect x="452" y="594" width="5" height="16" fill="#0cb4b2"/>
<rect x="459" y="585" width="5" height="25" fill="#f78181"/>
<rect x="465" y="567" width="5" height="43" fill="#0cb4b2"/>
<rect x="471" y="589" width="5" height="21" fill="#f78181"/>
<rect x="478" y="598" width="5" height="12" fill="#0cb4b2"/>
<rect x="484" y="588" width="5" height="22" fill="#0cb4b2"/>
<rect x="490" y="595" width="5" height="15" fill="#f78181"/>
<rect x="497" y="598" width="5" height="12" fill="#f78181"/>
<rect x="503" y="600" width="5" height="10" fill="#f78181"/>
<rect x="510" y="589" width="5" height="21" fill="#f78181"/>
<rect x="516" y="583" width="5" height="27" fill="#f78181"/>
<rect x="522" y="587" width="5" height="23" fill="#f78181"/>
<rect x="529" y="591" width="5" height="19" fill="#f78181"/>
<rect x="535" y="565" width="5" height="45" fill="#f78181"/>
<rect x="541" y="577" width="5" height="33" fill="#f78181"/>
<rect x="548" y="561" width="5" height="49" fill="#f78181"/>
<rect x="554" y="445" width="5" height="165" fill="#f78181"/>
<rect x="560" y="531" width="5" height="79" fill="#f78181"/>
<rect x="567" y="570" width="5" height="40" fill="#0cb4b2"/>
<rect x="573" y="576" width="5" height="34" fill="#f78181"/>
<rect x="579" y="567" width="5" height="43" fill="#f78181"/>
<rect x="586" y="587" width="5" height="23" fill="#f78181"/>
<rect x="592" y="574" width="5" height="36" fill="#0cb4b2"/>
<rect x="599" y="569" width="5" height="41" fill="#0cb4b2"/>
<rect x="605" y="568" width="5" height="42" fill="#f78181"/>
<rect x="611" y="570" width="5" height="40" fill="#0cb4b2"/>
<rect x="618" y="585" width="5" height="25" fill="#0cb4b2"/>
<rect x="624" y="572" width="5" height="38" fill="#f78181"/>
<rect x="630" y="589" width="5" height="21" fill="#f78181"/>
<rect x="637" y="588" width="5" height="22" fill="#f78181"/>
<rect x="643" y="583" width="5" height="27" fill="#f78181"/>
<rect x="649" y="568" width="5" height="42" fill="#0cb4b2"/>
<rect x="656" y="548" width="5" height="62" fill="#0cb4b2"/>
<rect x="662" y="574" width="5" height="36" fill="#0cb4b2"/>
<rect x="669" y="572" width="5" height="38" fill="#f78181"/>
<rect x="675" y="576" width="5" height="34" fill="#0cb4b2"/>
<rect x="681" y="579" width="5" height="31" fill="#f78181"/>
<rect x="688" y="593" width="5" height="17" fill="#0cb4b2"/>
<rect x="694" y="599" width="5" height="11" fill="#0cb4b2"/>
<rect x="700" y="535" width="5" height="75" fill="#f78181"/>
<rect x="707" y="527" width="5" height="83" fill="#0cb4b2"/>
<rect x="713" y="574" width="5" height="36" fill="#f78181"/>
<rect x="719" y="506" width="5" height="104" fill="#f78181"/>
<rect x="726" y="543" width="5" height="67" fill="#0cb4b2"/>
<rect x="732" y="574" width="5" height="36" fill="#0cb4b2"/>
<rect x="738" y="564" width="5" height="46" fill="#0cb4b2"/>
<rect x="745" y="588" width="5" height="22" fill="#f78181"/>
<rect x="751" y="581" width="5" height="29" fill="#0cb4b2"/>
<rect x="758" y="593" width="5" height="17" fill="#0cb4b2"/>
<rect x="764" y="523" width="5" height="87" fill="#f78181"/>
<rect x="770" y="572" width="5" height="38" fill="#0cb4b2"/>
<rect x="777" y="576" width="5" height="34" fill="#f78181"/>
<rect x="783" y="526" width="5" height="84" fill="#f78181"/>
<rect x="789" y="546" width="5" height="64" fill="#f78181"/>
<rect x="796" y="570" width="5" height="40" fill="#0cb4b2"/>
<rect x="802" y="584" width="5" height="26" fill="#f78181"/>
<rect x="808" y="578" width="5" height="32" fill="#0cb4b2"/>
<rect x="815" y="584" width="5" height="26" fill="#f78181"/>
<rect x="821" y="572" width="5" height="38" fill="#0cb4b2"/>
<rect x="828" y="592" width="5" height="18" fill="#f78181"/>
<rect x="834" y="592" width="5" height="18" fill="#f78181"/>
<rect x="840" y="589" width="5" height="21" fill="#0cb4b2"/>
<rect x="847" y="581" width="5" height="29" fill="#0cb4b2"/>
<rect x="853" y="588" width="5" height="22" fill="#f78181"/>
<rect x="859" y="535" width="5" height="75" fill="#0cb4b2"/>
<rect x="866" y="561" width="5" height="49" fill="#f78181"/>
<rect x="872" y="587" width="5" height="23" fill="#0cb4b2"/>
<rect x="878" y="572" width="5" height="38" fill="#f78181"/>
<rect x="885" y="589" width="5" height="21" fill="#0cb4b2"/>
<rect x="891" y="593" width="5" height="17" fill="#f78181"/>
<rect x="897" y="574" width="5" height="36" fill="#0cb4b2"/>
<rect x="904" y="571" width="5" height="39" fill="#f78181"/>
<rect x="910" y="577" width="5" height="33" fill="#0cb4b2"/>
<rect x="917" y="551" width="5" height="59" fill="#f78181"/>
<rect x="923" y="569" width="5" height="41" fill="#0cb4b2"/>
<rect x="929" y="592" width="5" height="18" fill="#0cb4b2"/>
<rect x="936" y="573" width="5" height="37" fill="#f78181"/>
<rect x="942" y="568" width="5" height="42" fill="#0cb4b2"/>
<rect x="948" y="585" width="5" height="25" fill="#f78181"/>
<rect x="955" y="573" width="5" height="37" fill="#0cb4b2"/>
<rect x="961" y="592" width="5" height="18" fill="#0cb4b2"/>
<rect x="967" y="583" width="5" height="27" fill="#0cb4b2"/>
<rect x="974" y="581" width="5" height="29" fill="#f78181"/>
<rect x="980" y="591" width="5" height="19" fill="#f78181"/>
<rect x="987" y="530" width="5" height="80" fill="#f78181"/>
<rect x="993" y="547" width="5" height="63" fill="#0cb4b2"/>
<rect x="999" y="470" width="5" height="140" fill="#f78181"/>
<rect x="92" y="614" width="1" height="3" fill="#7a1c22"/>
<rect x="98" y="614" width="1" height="3" fill="#7a1c22"/>
<rect x="104" y="614" width="1" height="3" fill="#7a1c22"/>
<rect x="111" y="614" width="1" height="3" fill="#7a1c22"/>
<rect x="117" y="614" width="1" height="3" fill="#7a1c22"/>
<rect x="124" y="614" width="1" height="3" fill="#7a1c22"/>
<rect x="130" y="614" width="1" height="3" fill="#7a1c22"/>
<rect x="136" y="614" width="1" height="3" fill="#7a1c22"/>
<rect x="143" y="614" width="1" height="3" fill="#7a1c22"/>
<rect x="149" y="614" width="1" height="3" fill="#7a1c22"/>
<rect x="155" y="614" width="1" height="3" fill="#7a1c22"/>
<rect x="162" y="614" width="1" height="3" fill="#7a1c22"/>
<rect x="168" y="614" width="1" height="3" fill="#7a1c22"/>
<rect x="174" y="614" width="1" height="3" fill="#7a1c22"/>
<rect x="181" y="614" width="1" height="3" fill="#7a1c22"/>
<rect x="187" y="614" width="1" height="3" fill="#7a1c22"/>
<rect x="194" y="614" width="1" height="3" fill="#7a1c22"/>
<rect x="200" y="614" width="1" height="3" fill="#7a1c22"/>
<rect x="206" y="614" width="1" height="3" fill="#7a1c22"/>
<rect x="213" y="614" width="1" height="3" fill="#7a1c22"/>
<rect x="219" y="614" width="1" height="3" fill="#7a1c22"/>
<rect x="225" y="614" width="1" height="3" fill="#7a1c22"/>
<rect x="232" y="614" width="1" height="3" fill="#7a1c22"/>
<rect x="238" y="614" width="1" height="3" fill="#7a1c22"/>
<rect x="244" y="614" width="1" height="3" fill="#7a1c22"/>
<rect x="251" y="614" width="1" height="3" fill="#7a1c22"/>
<rect x="257" y="614" width="1" height="3" fill="#7a1c22"/>
<rect x="263" y="614" width="1" height="3" fill="#7a1c22"/>
<rect x="270" y="614" width="1" height="3" fill="#7a1c22"/>
<rect x="276" y="614" width="1" height="3" fill="#7a1c22"/>
<rect x="283" y="614" width="1" height="3" fill="#7a1c22"/>
<rect x="289" y="614" width="1" height="3" fill="#7a1c22"/>
<rect x="295" y="614" width="1" height="3" fill="#7a1c22"/>
<rect x="302" y="614" width="1" height="3" fill="#7a1c22"/>
<rect x="308" y="614" width="1" height="3" fill="#7a1c22"/>
<rect x="314" y="614" width="1" height="3" fill="#7a1c22"/>
<rect x="321" y="614" width="1" height="3" fill="#7a1c22"/>
<rect x="327" y="614" width="1" height="3" fill="#7a1c22"/>
<rect x="333" y="614" width="1" height="3" fill="#7a1c22"/>
<rect x="340" y="614" width="1" height="3" fill="#7a1c22"/>
<rect x="346" y="614" width="1" height="3" fill="#7a1c22"/>
<rect x="353" y="614" width="1" height="3" fill="#7a1c22"/>
<rect x="359" y="614" width="1" height="3" fill="#7a1c22"/>
<rect x="365" y="614" width="1" height="3" fill="#7a1c22"/>
<rect x="372" y="614" width="1" height="3" fill="#7a1c22"/>
<rect x="378" y="614" width="1" height="3" fill="#7a1c22"/>
<rect x="384" y="614" width="1" height="3" fill="#7a1c22"/>
<rect x="391" y="614" width="1" height="3" fill="#7a1c22"/>
<rect x="397" y="614" width="1" height="3" fill="#7a1c22"/>
<rect x="403" y="614" width="1" height="3" fill="#7a1c22"/>
<rect x="410" y="614" width="1" height="3" fill="#7a1c22"/>
<rect x="416" y="614" width="1" height="3" fill="#7a1c22"/>
<rect x="422" y="614" width="1" height="3" fill="#7a1c22"/>
<rect x="429" y="614" width="1" height="3" fill="#7a1c22"/>
<rect x="435" y="614" width="1" height="3" fill="#7a1c22"/>
<rect x="442" y="614" width="1" height="3" fill="#7a1c22"/>
<rect x="448" y="614" width="1" height="3" fill="#7a1c22"/>
<rect x="454" y="614" width="1" height="3" fill="#7a1c22"/>
<rect x="461" y="614" width="1" height="3" fill="#7a1c22"/>
<rect x="467" y="614" width="1" height="3" fill="#7a1c22"/>
<rect x="473" y="614" width="1" height="3" fill="#7a1c22"/>
<rect x="480" y="614" width="1" height="3" fill="#7a1c22"/>
<rect x="486" y="614" width="1" height="3" fill="#7a1c22"/>
<rect x="492" y="614" width="1" height="3" fill="#7a1c22"/>
<rect x="499" y="614" width="1" height="3" fill="#7a1c22"/>
<rect x="505" y="614" width="1" height="3" fill="#7a1c22"/>
<rect x="512" y="614" width="1" height="3" fill="#7a1c22"/>
<rect x="518" y="614" width="1" height="3" fill="#7a1c22"/>
<rect x="524" y="614" width="1" height="3" fill="#7a1c22"/>
<rect x="531" y="614" width="1" height="3" fill="#7a1c22"/>
<rect x="537" y="614" width="1" height="3" fill="#7a1c22"/>
<rect x="543" y="614" width="1" height="3" fill="#7a1c22"/>
<rect x="550" y="614" width="1" height="3" fill="#7a1c22"/>
<rect x="556" y="614" width="1" height="3" fill="#7a1c22"/>
<rect x="562" y="614" width="1" height="3" fill="#7a1c22"/>
<rect x="569" y="614" width="1" height="3" fill="#7a1c22"/>
<rect x="575" y="614" width="1" height="3" fill="#7a1c22"/>
<rect x="581" y="614" width="1" height="3" fill="#7a1c22"/>
<rect x="588" y="614" width="1" height="3" fill="#7a1c22"/>
<rect x="594" y="614" width="1" height="3" fill="#7a1c22"/>
<rect x="601" y="614" width="1" height="3" fill="#7a1c22"/>
<rect x="607" y="614" width="1" height="3" fill="#7a1c22"/>
<rect x="613" y="614" width="1" height="3" fill="#7a1c22"/>
<rect x="620" y="614" width="1" height="3" fill="#7a1c22"/>
<rect x="626" y="614" width="1" height="3" fill="#7a1c22"/>
<rect x="632" y="614" width="1" height="3" fill="#7a1c22"/>
<rect x="639" y="614" width="1" height="3" fill="#7a1c22"/>
<rect x="645" y="614" width="1" height="3" fill="#7a1c22"/>
<rect x="651" y="614" width="1" height="3" fill="#7a1c22"/>
<rect x="658" y="614" width="1" height="3" fill="#7a1c22"/>
<rect x="664" y="614" width="1" height="3" fill="#7a1c22"/>
<rect x="671" y="614" width="1" height="3" fill="#7a1c22"/>
<rect x="677" y="614" width="1" height="3" fill="#7a1c22"/>
<rect x="683" y="614" width="1" height="3" fill="#7a1c22"/>
<rect x="690" y="614" width="1" height="3" fill="#7a1c22"/>
<rect x="696" y="614" width="1" height="3" fill="#7a1c22"/>
<rect x="702" y="614" width="1" height="3" fill="#7a1c22"/>
<rect x="709" y="614" width="1" height="3" fill="#7a1c22"/>
<rect x="715" y="614" width="1" height="3" fill="#7a1c22"/>
<rect x="721" y="614" width="1" height="3" fill="#7a1c22"/>
<rect x="728" y="614" width="1" height="3" fill="#7a1c22"/>
<rect x="734" y="614" width="1" height="3" fill="#7a1c22"/>
<rect x="740" y="614" width="1" height="3" fill="#7a1c22"/>
<rect x="747" y="614" width="1" height="3" fill="#7a1c22"/>
<rect x="753" y="614" width="1" height="3" fill="#7a1c22"/>
<rect x="760" y="614" width="1" height="3" fill="#7a1c22"/>
<rect x="766" y="614" width="1" height="3" fill="#7a1c22"/>
<rect x="772" y="614" width="1" height="3" fill="#7a1c22"/>
<rect x="779" y="614" width="1" height="3" fill="#7a1c22"/>
<rect x="785" y="614" width="1" height="3" fill="#7a1c22"/>
<rect x="791" y="614" width="1" height="3" fill="#7a1c22"/>
<rect x="798" y="614" width="1" height="3" fill="#7a1c22"/>
<rect x="804" y="614" width="1" height="3" fill="#7a1c22"/>
<rect x="810" y="614" width="1" height="3" fill="#7a1c22"/>
<rect x="817" y="614" width="1" height="3" fill="#7a1c22"/>
<rect x="823" y="614" width="1" height="3" fill="#7a1c22"/>
<rect x="830" y="614" width="1" height="3" fill="#7a1c22"/>
<rect x="836" y="614" width="1" height="3" fill="#7a1c22"/>
<rect x="842" y="614" width="1" height="3" fill="#7a1c22"/>
<rect x="849" y="614" width="1" height="3" fill="#7a1c22"/>
<rect x="855" y="614" width="1" height="3" fill="#7a1c22"/>
<rect x="861" y="614" width="1" height="3" fill="#7a1c22"/>
<rect x="868" y="614" width="1" height="3" fill="#7a1c22"/>
<rect x="874" y="614" width="1" height="3" fill="#7a1c22"/>
<rect x="880" y="614" width="1" height="3" fill="#7a1c22"/>
<rect x="887" y="614" width="1" height="3" fill="#7a1c22"/>
<rect x="893" y="614" width="1" height="3" fill="#7a1c22"/>
<rect x="899" y="614" width="1" height="3" fill="#7a1c22"/>
<rect x="906" y="614" width="1" height="3" fill="#7a1c22"/>
<rect x="912" y="614" width="1" height="3" fill="#7a1c22"/>
<rect x="919" y="614" width="1" height="3" fill="#7a1c22"/>
<rect x="925" y="614" width="1" height="3" fill="#7a1c22"/>
<rect x="931" y="614" width="1" height="3" fill="#7a1c22"/>
<rect x="938" y="614" width="1" height="3" fill="#7a1c22"/>
<rect x="944" y="614" width="1" height="3" fill="#7a1c22"/>
<rect x="950" y="614" width="1" height="3" fill="#7a1c22"/>
<rect x="957" y="614" width="1" height="3" fill="#7a1c22"/>
<rect x="963" y="614" width="1" height="3" fill="#7a1c22"/>
<rect x="969" y="614" width="1" height="3" fill="#7a1c22"/>
<rect x="976" y="614" width="1" height="3" fill="#7a1c22"/>
<rect x="982" y="614" width="1" height="3" fill="#7a1c22"/>
<rect x="989" y="614" width="1" height="3" fill="#7a1c22"/>
<rect x="995" y="614" width="1" height="3" fill="#7a1c22"/>
<rect x="1001" y="614" width="1" height="3" fill="#7a1c22"/>
<rect x="98" y="429" width="1" height="5" fill="#333"/>
<rect x="244" y="429" width="1" height="5" fill="#333"/>
<rect x="378" y="429" width="1" height="5" fill="#333"/>
<rect x="505" y="429" width="1" height="5" fill="#333"/>
<rect x="645" y="429" width="1" height="5" fill="#333"/>
<rect x="779" y="429" width="1" height="5" fill="#333"/>
<rect x="919" y="429" width="1" height="5" fill="#333"/>
<text transform="translate(71,44.8) scale(1,1.2)" class="yl">270</text>
<text transform="translate(71,82.9) scale(1,1.2)" class="yl">260</text>
<text transform="translate(71,121.0) scale(1,1.2)" class="yl">250</text>
<text transform="translate(71,159.0) scale(1,1.2)" class="yl">240</text>
<text transform="translate(71,197.1) scale(1,1.2)" class="yl">230</text>
<text transform="translate(71,235.2) scale(1,1.2)" class="yl">220</text>
<text transform="translate(71,273.3) scale(1,1.2)" class="yl">210</text>
<text transform="translate(71,311.4) scale(1,1.2)" class="yl">200</text>
<text transform="translate(71,349.4) scale(1,1.2)" class="yl">190</text>
<text transform="translate(71,387.5) scale(1,1.2)" class="yl">180</text>
<text transform="translate(71,489.8) scale(1,1.2)" class="yl">7000</text>
<text transform="translate(71,526.0) scale(1,1.2)" class="yl">5000</text>
<text transform="translate(71,561.9) scale(1,1.2)" class="yl">3000</text>
<text transform="translate(71,597.3) scale(1,1.2)" class="yl">1000</text>
<text transform="translate(97.5,640) scale(1,1.2)" class="xl">07</text>
<text transform="translate(243.5,640) scale(1,1.2)" class="xl">08</text>
<text transform="translate(377.5,640) scale(1,1.2)" class="xl">09</text>
<text transform="translate(504.5,640) scale(1,1.2)" class="xl">10</text>
<text transform="translate(644.5,640) scale(1,1.2)" class="xl">11</text>
<text transform="translate(778.5,640) scale(1,1.2)" class="xl">12</text>
<text transform="translate(918.5,640) scale(1,1.2)" class="xl">01</text>
<text transform="translate(918.5,660) scale(1,1.2)" class="xl">2014</text>
<path d="M119 5h1v1h-1zM119 6h1v1h-1zM119 7h1v1h-1zM119 8h1v1h-1zM119 9h5v1h-5zM119 10h1v1h-1zM119 11h1v1h-1zM119 12h1v1h-1zM119 13h1v1h-1zM119 14h1v1h-1zM114 15h11v1h-11zM128 5h1v1h-1zM131 5h5v1h-5zM127 6h1v1h-1zM129 6h1v1h-1zM131 6h1v1h-1zM135 6h1v1h-1zM126 7h4v1h-4zM131 7h5v1h-5zM128 8h1v1h-1zM131 8h1v1h-1zM135 8h1v1h-1zM126 9h4v1h-4zM131 9h5v1h-5zM128 10h1v1h-1zM131 10h1v1h-1zM133 10h1v1h-1zM136 10h1v1h-1zM126 11h4v1h-4zM131 11h1v1h-1zM134 11h2v1h-2zM126 12h1v1h-1zM128 12h1v1h-1zM130 12h2v1h-2zM134 12h1v1h-1zM126 13h1v1h-1zM128 13h2v1h-2zM131 13h1v1h-1zM135 13h1v1h-1zM126 14h4v1h-4zM131 14h2v1h-2zM135 14h2v1h-2zM128 15h2v1h-2zM131 15h1v1h-1zM136 15h1v1h-1zM256 5h5v1h-5zM262 5h5v1h-5zM256 6h1v1h-1zM260 6h1v1h-1zM262 6h1v1h-1zM266 6h1v1h-1zM256 7h5v1h-5zM262 7h5v1h-5zM256 8h1v1h-1zM260 8h1v1h-1zM262 8h1v1h-1zM266 8h1v1h-1zM256 9h5v1h-5zM262 9h5v1h-5zM256 10h1v1h-1zM266 10h1v1h-1zM256 11h1v1h-1zM259 11h6v1h-6zM266 11h1v1h-1zM256 12h1v1h-1zM260 12h1v1h-1zM262 12h1v1h-1zM266 12h1v1h-1zM256 13h1v1h-1zM258 13h7v1h-7zM266 13h1v1h-1zM256 14h1v1h-1zM260 14h1v1h-1zM262 14h1v1h-1zM266 14h1v1h-1zM256 15h1v1h-1zM259 15h1v1h-1zM262 15h1v1h-1zM264 15h3v1h-3zM368 5h1v1h-1zM363 6h11v1h-11zM365 8h7v1h-7zM365 9h1v1h-1zM371 9h1v1h-1zM364 10h9v1h-9zM364 11h1v1h-1zM372 11h1v1h-1zM364 12h1v1h-1zM366 12h5v1h-5zM372 12h1v1h-1zM364 13h1v1h-1zM366 13h1v1h-1zM370 13h1v1h-1zM372 13h1v1h-1zM364 14h1v1h-1zM366 14h5v1h-5zM372 14h1v1h-1zM364 15h1v1h-1zM371 15h2v1h-2zM473 5h1v1h-1zM479 5h2v1h-2zM473 6h1v1h-1zM475 6h5v1h-5zM472 7h1v1h-1zM475 7h1v1h-1zM479 7h1v1h-1zM472 8h1v1h-1zM475 8h1v1h-1zM479 8h1v1h-1zM471 9h2v1h-2zM475 9h7v1h-7zM472 10h1v1h-1zM475 10h1v1h-1zM478 10h1v1h-1zM472 11h1v1h-1zM475 11h1v1h-1zM478 11h1v1h-1zM472 12h1v1h-1zM475 12h1v1h-1zM478 12h2v1h-2zM481 12h1v1h-1zM472 13h1v1h-1zM474 13h3v1h-3zM479 13h1v1h-1zM481 13h1v1h-1zM472 14h1v1h-1zM474 14h1v1h-1zM480 14h2v1h-2zM472 15h1v1h-1zM475 15h5v1h-5zM582 5h1v1h-1zM585 5h1v1h-1zM579 6h1v1h-1zM582 6h1v1h-1zM585 6h1v1h-1zM579 7h1v1h-1zM582 7h1v1h-1zM584 7h6v1h-6zM579 8h1v1h-1zM582 8h1v1h-1zM588 8h1v1h-1zM579 9h1v1h-1zM582 9h1v1h-1zM585 9h1v1h-1zM588 9h1v1h-1zM579 10h1v1h-1zM582 10h1v1h-1zM585 10h1v1h-1zM587 10h1v1h-1zM579 11h1v1h-1zM581 11h2v1h-2zM585 11h1v1h-1zM587 11h1v1h-1zM579 12h4v1h-4zM586 12h1v1h-1zM582 13h1v1h-1zM585 13h1v1h-1zM587 13h1v1h-1zM582 14h1v1h-1zM584 14h1v1h-1zM588 14h1v1h-1zM582 15h1v1h-1zM584 15h1v1h-1zM588 15h2v1h-2zM857 5h7v1h-7zM857 6h1v1h-1zM863 6h1v1h-1zM857 7h7v1h-7zM855 9h11v1h-11zM857 10h1v1h-1zM860 10h1v1h-1zM863 10h1v1h-1zM857 11h7v1h-7zM857 12h1v1h-1zM860 12h1v1h-1zM863 12h1v1h-1zM856 13h9v1h-9zM860 14h1v1h-1zM855 15h11v1h-11zM901 5h1v1h-1zM900 6h3v1h-3zM899 7h1v1h-1zM901 7h1v1h-1zM903 7h1v1h-1zM901 8h1v1h-1zM901 9h1v1h-1zM901 10h1v1h-1zM901 11h1v1h-1zM901 12h1v1h-1zM901 13h1v1h-1zM901 14h1v1h-1zM901 15h1v1h-1zM901 16h1v1h-1zM909 5h3v1h-3zM913 5h6v1h-6zM911 6h1v1h-1zM913 6h1v1h-1zM911 7h1v1h-1zM913 7h5v1h-5zM909 8h3v1h-3zM913 8h1v1h-1zM909 9h1v1h-1zM913 9h5v1h-5zM909 10h1v1h-1zM913 10h1v1h-1zM909 11h10v1h-10zM911 12h1v1h-1zM913 12h2v1h-2zM916 12h1v1h-1zM918 12h1v1h-1zM911 13h1v1h-1zM913 13h1v1h-1zM915 13h2v1h-2zM909 14h2v1h-2zM912 14h2v1h-2zM916 14h2v1h-2zM909 15h1v1h-1zM912 15h2v1h-2zM917 15h2v1h-2zM993 6h8v1h-8zM993 7h1v1h-1zM1000 7h1v1h-1zM993 8h1v1h-1zM1000 8h1v1h-1zM993 9h1v1h-1zM1000 9h1v1h-1zM993 10h8v1h-8zM993 11h1v1h-1zM1000 11h1v1h-1zM993 12h1v1h-1zM1000 12h1v1h-1zM993 13h1v1h-1zM1000 13h1v1h-1zM993 14h8v1h-8zM993 15h1v1h-1zM1000 15h1v1h-1zM1005 5h1v1h-1zM1010 5h1v1h-1zM1004 6h1v1h-1zM1006 6h1v1h-1zM1008 6h5v1h-5zM1003 7h3v1h-3zM1008 7h1v1h-1zM1012 7h1v1h-1zM1005 8h1v1h-1zM1008 8h5v1h-5zM1004 9h1v1h-1zM1006 9h1v1h-1zM1008 9h1v1h-1zM1012 9h1v1h-1zM1003 10h4v1h-4zM1008 10h6v1h-6zM1005 11h1v1h-1zM1010 11h1v1h-1zM1012 11h1v1h-1zM1003 12h1v1h-1zM1005 12h1v1h-1zM1007 12h1v1h-1zM1009 12h3v1h-3zM1003 13h1v1h-1zM1005 13h2v1h-2zM1009 13h2v1h-2zM1012 13h1v1h-1zM1005 14h1v1h-1zM1010 14h1v1h-1zM1013 14h1v1h-1zM1005 15h1v1h-1zM1009 15h2v1h-2z" fill="#10102a"/><polygon points="693,7.2 688.9,13.9 697.1,13.9" fill="none" stroke="#cc1122" stroke-width="1.7" stroke-linejoin="miter"/>
</svg>
<div class="h hd" style="left:4.4px;top:3.5px">2014/01/21</div>
<div class="h hn" style="left:86.8px;top:3.5px">2049</div>
<div class="h hb" style="left:272.2px;top:4.0px">257</div>
<div class="h hb" style="left:379.0px;top:4.0px">272</div>
<div class="h hb" style="left:487.0px;top:4.0px">256</div>
<div class="h hb" style="left:595.0px;top:4.0px">270</div>
<div class="h hb" style="left:699.6px;top:3.6px">14.5</div>
<div class="h hp" style="left:776.4px;top:2.5px">(5.68%)</div>
<div class="h hn" style="left:872.0px;top:3.5px">7728</div>
</body></html>
